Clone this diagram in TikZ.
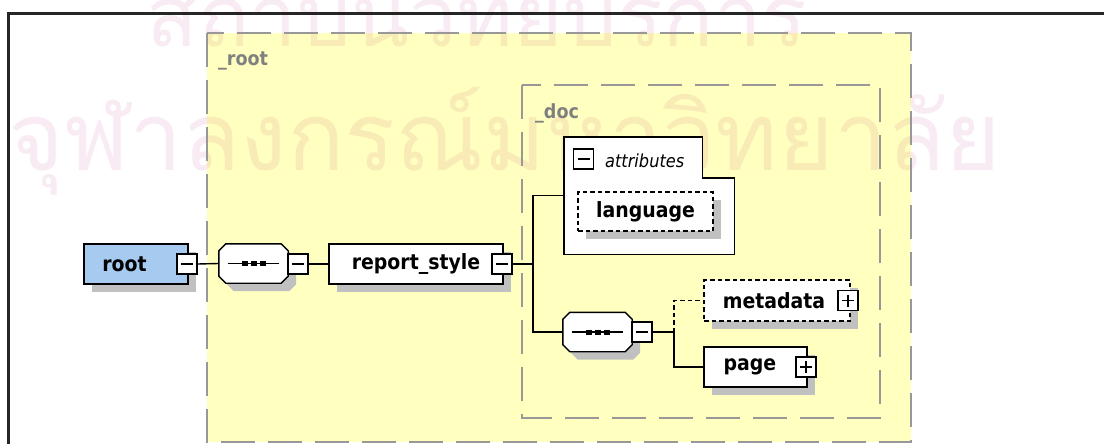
\documentclass[tikz,border=0pt]{standalone}
\usepackage{fontspec}
\setmainfont{DejaVu Sans}
\newfontfamily\xsdfont{DejaVu Sans Condensed}
\newfontfamily\thaifont[Script=Thai]{Loma}
\usetikzlibrary{shadows,calc}

\definecolor{groupfill}{RGB}{255,255,192}
\definecolor{groupline}{RGB}{152,152,152}
\definecolor{rootblue}{RGB}{166,202,240}
\definecolor{shadowgray}{RGB}{192,192,192}
\definecolor{labelgray}{RGB}{128,128,128}
\definecolor{wmink}{RGB}{249,235,243}

\tikzset{
  xsdshadow/.style={drop shadow={shadow xshift=8pt, shadow yshift=-8pt, fill=shadowgray, opacity=1}},
  elembox/.style={draw=black, line width=1.4pt, fill=white, minimum height=40pt,
    inner sep=0pt, font=\xsdfont\bfseries\fontsize{21}{24}\selectfont, xsdshadow},
  optbox/.style={elembox, dash pattern=on 4.5pt off 3pt},
  iconbox/.style={draw=black, line width=1.2pt, fill=white, minimum size=20pt, inner sep=0pt},
  minusicon/.style={iconbox, path picture={
      \draw[line width=1.2pt] ([xshift=4pt]path picture bounding box.west) -- ([xshift=-4pt]path picture bounding box.east);}},
  plusicon/.style={iconbox, path picture={
      \draw[line width=1.2pt] ([xshift=4pt]path picture bounding box.west) -- ([xshift=-4pt]path picture bounding box.east);
      \draw[line width=1.2pt] ([yshift=-4pt]path picture bounding box.north) -- ([yshift=4pt]path picture bounding box.south);}},
  seqframe/.style={minimum width=69pt, minimum height=39pt, inner sep=0pt},
  conn/.style={draw=black, line width=1.4pt},
  optconn/.style={conn, dash pattern=on 4.5pt off 3pt},
  groupbox/.style={draw=groupline, line width=2.4pt, dash pattern=on 34pt off 13pt},
  grouplabel/.style={anchor=base west, inner sep=0pt, text=labelgray,
    font=\xsdfont\bfseries\fontsize{19.5}{22}\selectfont},
  watermark/.style={inner sep=0pt, text=wmink, font=\thaifont}
}

% octagon of a sequence compositor, drawn round a named frame node
\newcommand\xsdoctagon[1]{%
  \draw[conn, fill=white, xsdshadow]
    ([xshift=7pt]#1.north west) -- ([xshift=-7pt]#1.north east) --
    ([yshift=-7pt]#1.north east) -- ([yshift=7pt]#1.south east) --
    ([xshift=-7pt]#1.south east) -- ([xshift=7pt]#1.south west) --
    ([yshift=7pt]#1.south west) -- ([yshift=-7pt]#1.north west) -- cycle;
  \draw[line width=1.4pt] ([xshift=9pt]#1.west) -- ([xshift=-9pt]#1.east);
  \foreach \dx in {-9,0,9}
    \fill ([xshift=\dx pt-3pt, yshift=2.5pt]#1.center) rectangle ([xshift=\dx pt+3pt, yshift=-2.5pt]#1.center);
}

\begin{document}
\begin{tikzpicture}[x=1pt,y=-1pt]
\useasboundingbox (0,0) rectangle (1104,444);
\fill[white] (0,0) rectangle (1104,444);

% frame of the panel
\draw[line width=2.2pt, black!85] (8.5,470) -- (8.5,13.5) -- (1110,13.5);

% model groups
\fill[groupfill] (207,33) rectangle (911,442);

% watermark, multiplied onto whatever lies below it
\begin{scope}[blend mode=multiply]
\node[watermark, anchor=base, font=\thaifont\fontsize{85}{85}\selectfont] (wm1) at (477,47) {สถาบันวิทยบริการ};
\node[watermark, anchor=base, font=\thaifont\fontsize{95}{95}\selectfont] (wm2) at (505,170) {จุฬาลงกรณ์มหาวิทยาลัย};
\end{scope}

\draw[groupbox] (207,33) rectangle (911,442);
\draw[groupbox] (522,85) rectangle (880,418);
\node[grouplabel] (lroot) at (218,66) {\_root};
\node[grouplabel] (ldoc) at (535,118) {\_doc};

% root element
\node[elembox, fill=rootblue, minimum width=104pt] (root) at (136,264) {root\kern23pt};
\node[minusicon] (rooti) at (187,264) {};

% outer sequence
\node[seqframe] (seqa) at (253.5,263.5) {};
\xsdoctagon{seqa}
\node[minusicon] (seqai) at (298,264) {};

% report_style
\node[elembox, minimum width=174pt] (rs) at (416,264) {report\_style};
\node[minusicon] (rsi) at (502,264) {};

% attributes container
\node[minimum width=170pt, minimum height=117pt, inner sep=0pt] (attr) at (649,195.5) {};
\draw[conn, fill=white] (attr.north west) -- ([xshift=-32pt]attr.north east) --
  ([xshift=-32pt, yshift=-41pt]attr.north east) -- ([yshift=-41pt]attr.north east) --
  (attr.south east) -- (attr.south west) -- cycle;
\node[minusicon] (attri) at (583.5,159) {};
\node[anchor=base west, inner sep=0pt, font=\xsdfont\itshape\fontsize{18}{20}\selectfont] (attrl) at (605,167) {attributes};
\node[optbox, minimum width=135pt, minimum height=39pt] (lang) at (645.5,211.5) {language};

% inner sequence
\node[seqframe] (seqb) at (597.5,332) {};
\xsdoctagon{seqb}
\node[minusicon] (seqbi) at (642,332) {};

% children of the inner sequence
\node[optbox, minimum width=146pt, minimum height=41pt] (meta) at (777,300.5) {metadata\kern6pt};
\node[plusicon] (metai) at (848,300.5) {};
\node[elembox, minimum width=103pt] (page) at (755.5,367) {page\kern11pt};
\node[plusicon] (pagei) at (806,367) {};

% connectors
\coordinate (ja) at (533,264);
\coordinate (jb) at (674,332);
\draw[conn] (rooti.east) -- (seqa.west);
\draw[conn] (seqai.east) -- (rs.west);
\draw[conn] (rsi.east) -- (ja);
\draw[conn] (ja) |- (attr.west);
\draw[conn] (ja) |- (seqb.west);
\draw[conn] (seqbi.east) -- (jb);
\draw[optconn] (jb) |- (meta.west);
\draw[conn] (jb) |- (page.west);
\end{tikzpicture}
\end{document}
